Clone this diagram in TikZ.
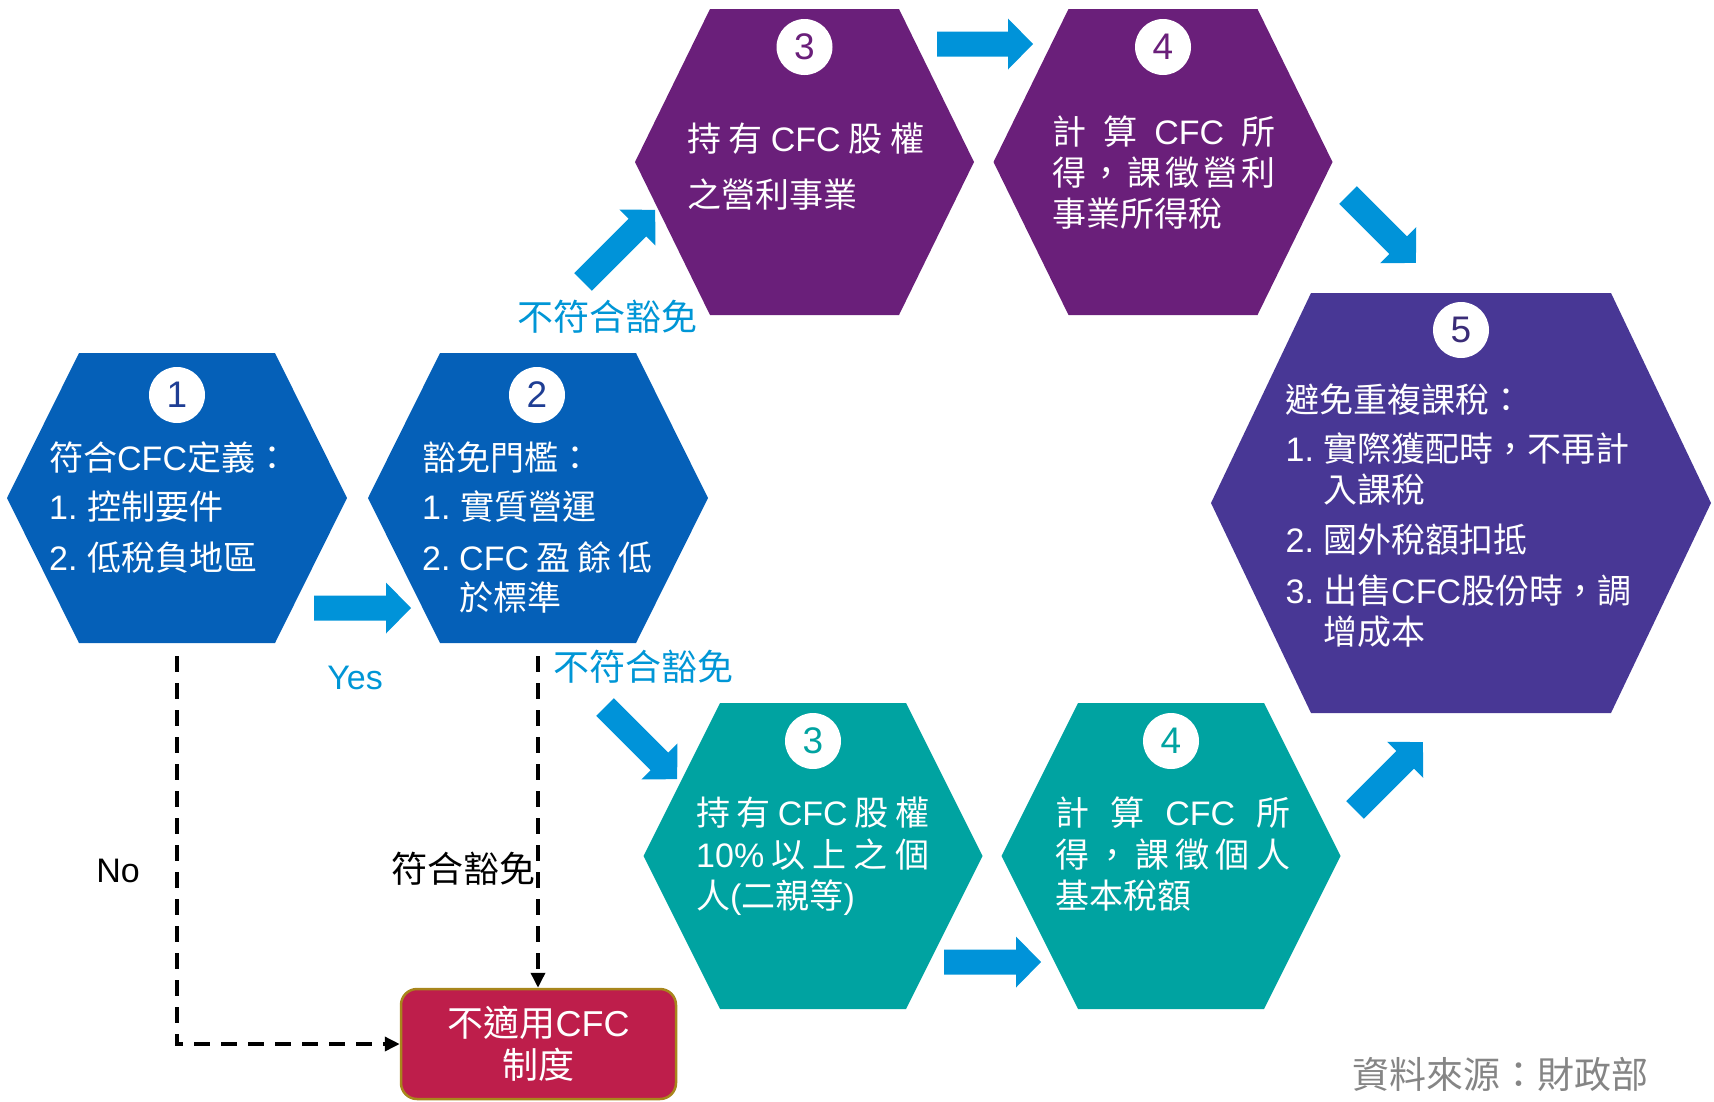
\documentclass[tikz,border=0pt]{standalone}
\usepackage{fontspec}
\setmainfont{Noto Sans CJK TC}
\newfontfamily\arialf{Liberation Sans}
\newcommand\la[1]{{\arialf #1}}
\usetikzlibrary{arrows.meta}
\definecolor{hexblue}{HTML}{0560B8}
\definecolor{hexpurple}{HTML}{6A1F7A}
\definecolor{hexindigo}{HTML}{483795}
\definecolor{hexteal}{HTML}{00A3A1}
\definecolor{arrblue}{HTML}{0093D9}
\definecolor{lblblue}{HTML}{0096D6}
\definecolor{boxred}{HTML}{BE1E4B}
\definecolor{boxedge}{HTML}{A8861C}
\definecolor{numnavy}{HTML}{1F3E94}
\definecolor{srcgray}{HTML}{858585}
\newcommand\hexa[6]{\fill[#6] ({#1-#3},#2) -- ({#1-#4},{#2-#5}) -- ({#1+#4},{#2-#5}) -- ({#1+#3},#2) -- ({#1+#4},{#2+#5}) -- ({#1-#4},{#2+#5}) -- cycle;}
\newcommand\barrow[4]{\fill[arrblue, shift={(#1,#2)}, rotate=#3] (0,-12.5) -- ({#4-25},-12.5) -- ({#4-25},-25.5) -- (#4,0) -- ({#4-25},25.5) -- ({#4-25},12.5) -- (0,12.5) -- cycle;}
\tikzset{
  tl/.style={anchor=west, inner sep=0pt, text=white, font=\fontsize{34}{34}\selectfont, text height=26pt, text depth=0pt},
  numc/.style={circle, fill=white, minimum size=56pt, inner sep=0pt, font=\arialf\fontsize{37}{37}\selectfont},
  lbl/.style={inner sep=0pt, font=\fontsize{36}{36}\selectfont, text height=27pt, text depth=0pt},
  dashline/.style={black, line width=3.5pt, dash pattern=on 16pt off 11pt, -{Triangle[length=15pt,width=14pt]}},
}
\begin{document}
\begin{tikzpicture}[x=1pt,y=-1pt]
\useasboundingbox (0,0) rectangle (1714,1101);
% hexagons
\hexa{177}{498}{170}{98}{145}{hexblue}
\hexa{538}{498}{170}{98}{145}{hexblue}
\hexa{804.5}{162}{169.5}{94.5}{153}{hexpurple}
\hexa{1163}{162}{169.5}{94.5}{153}{hexpurple}
\hexa{1461}{503}{250}{150}{210}{hexindigo}
\hexa{813}{856}{169.5}{93}{153}{hexteal}
\hexa{1171}{856}{169.5}{93}{153}{hexteal}
% number circles
\node[numc, text=numnavy] (n1) at (177,395) {1};
\node[numc, text=numnavy] (n2) at (537,395) {2};
\node[numc, text=hexpurple] (n3p) at (804.5,47) {3};
\node[numc, text=hexpurple] (n4p) at (1163,47) {4};
\node[numc, text=hexindigo!80!black] (n5) at (1461,330) {5};
\node[numc, text=hexteal] (n3t) at (813,741) {3};
\node[numc, text=hexteal] (n4t) at (1171,741) {4};
% hex 1
\node[tl] (h1a) at (49,457) {符合\la{CFC}定義：};
\node[tl] (h1b) at (49,506) {\la{1.} 控制要件};
\node[tl] (h1c) at (49,557) {\la{2.} 低稅負地區};
% hex 2
\node[tl] (h2a) at (422,457) {豁免門檻：};
\node[tl] (h2b) at (422,506) {\la{1.} 實質營運};
\node[tl] (h2c) at (422,557) {\la{2.}};
\node[tl] (h2d) at (459,557) {\makebox[193pt][s]{\la{CFC} 盈 餘 低}};
\node[tl] (h2e) at (459,597) {於標準};
% purple 3
\node[tl] (p3a) at (687,138) {\makebox[237pt][s]{持 有 \la{CFC} 股 權}};
\node[tl] (p3b) at (687,194) {之營利事業};
% purple 4
\node[tl] (p4a) at (1052,131) {\makebox[223pt][s]{計 算 \la{CFC} 所}};
\node[tl] (p4b) at (1052,172) {\makebox[223pt][l]{得\hfill，\hfill 課\hfill 徵\hfill 營\hfill 利}};
\node[tl] (p4c) at (1052,213) {事業所得稅};
% hex 5
\node[tl] (h5a) at (1285.5,399) {避免重複課稅：};
\node[tl] (h5b) at (1285.5,448) {\la{1.}};
\node[tl] (h5c) at (1323,448) {實際獲配時，不再計};
\node[tl] (h5d) at (1323,489) {入課稅};
\node[tl] (h5e) at (1285.5,539) {\la{2.}};
\node[tl] (h5f) at (1323,539) {國外稅額扣抵};
\node[tl] (h5g) at (1285.5,590) {\la{3.}};
\node[tl] (h5h) at (1323,590) {出售\la{CFC}股份時，調};
\node[tl] (h5i) at (1323,631) {增成本};
% teal 3
\node[tl] (t3a) at (696,812) {\makebox[233pt][s]{持 有 \la{CFC} 股 權}};
\node[tl] (t3b) at (696,854) {\makebox[233pt][s]{\la{10\%} 以 上 之 個}};
\node[tl] (t3c) at (696,895) {人\la{(}二親等\la{)}};
% teal 4
\node[tl] (t4a) at (1055,812) {\makebox[235pt][s]{計 算 \la{CFC} 所}};
\node[tl] (t4b) at (1055,854) {\makebox[235pt][l]{得\hfill，\hfill 課\hfill 徵\hfill 個\hfill 人}};
\node[tl] (t4c) at (1055,895) {基本稅額};
% block arrows
\barrow{314}{608}{0}{97}
\barrow{583}{282}{45}{102}
\barrow{937}{44}{0}{96}
\barrow{1348}{195}{-45}{96}
\barrow{605}{707}{-45}{102}
\barrow{944}{962}{0}{97}
\barrow{1355}{810}{45}{96}
% red box
\node[draw=boxedge, line width=2.5pt, fill=boxred, rounded corners=16pt, minimum width=275pt, minimum height=110pt, inner sep=0pt] (box) at (538.5,1044) {};
\node[inner sep=0pt, text=white, align=center, font=\fontsize{36}{42}\selectfont] (boxtxt) at (box.center) {不適用\la{CFC}\\制度};
% dashed connectors
\coordinate (d1) at (177,656);
\coordinate (d2) at (538,656);
\draw[dashline] (d1) |- (box.west);
\draw[dashline] (d2) -- (d2 |- box.north);
% labels
\node[lbl, text=lblblue, font=\arialf\fontsize{34}{34}\selectfont] (yes) at (355,676) {Yes};
\node[lbl, text=black, font=\arialf\fontsize{34}{34}\selectfont] (no) at (118,869) {No};
\node[lbl, text=lblblue] (nc1) at (607,317) {不符合豁免};
\node[lbl, text=lblblue] (nc2) at (643,667) {不符合豁免};
\node[lbl, text=black] (ok) at (463,869) {符合豁免};
\node[lbl, text=srcgray, font=\fontsize{37}{37}\selectfont] (src) at (1500,1075) {資料來源：財政部};
\end{tikzpicture}
\end{document}
